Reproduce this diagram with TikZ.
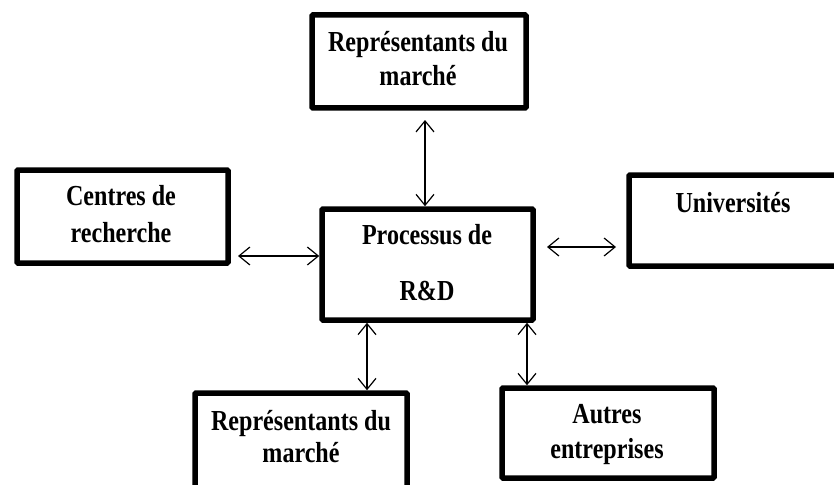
\documentclass[tikz,border=0pt]{standalone}
\usepackage{fontspec}
\setmainfont{Liberation Serif}[FakeStretch=0.83]
\usetikzlibrary{arrows.meta}
\begin{document}
\begin{tikzpicture}[x=1pt,y=-1pt,
  box/.style={draw=black,line width=5.5pt,rounded corners=1pt,rectangle,inner sep=0pt},
  lbl/.style={anchor=base,inner sep=0pt,font=\fontsize{29}{32}\selectfont\bfseries},
  biarrow/.style={line width=1.2pt,{Straight Barb[length=11pt,width=18pt]}-{Straight Barb[length=11pt,width=18pt]}}]
\useasboundingbox (0,0) rectangle (834,484);
\clip (0,0) rectangle (834,484);
% boxes
\node[box,minimum width=214pt,minimum height=93pt] (top) at (419,61.5) {};
\node[box,minimum width=211pt,minimum height=93pt] (left) at (122.5,216.5) {};
\node[box,minimum width=211pt,minimum height=111pt] (c) at (427.5,264.5) {};
\node[box,minimum width=271pt,minimum height=91pt] (right) at (764.5,220.5) {};
\node[box,minimum width=212pt,minimum height=127pt] (bl) at (301,456.5) {};
\node[box,minimum width=212pt,minimum height=90pt] (br) at (608,433) {};
% texts
\node[lbl] (t1) at (418,52) {Représentants du};
\node[lbl] (t2) at (418,86) {marché};
\node[lbl] (l1) at (121,205) {Centres de};
\node[lbl] (l2) at (121,242) {recherche};
\node[lbl] (c1) at (427,244) {Processus de};
\node[lbl] (c2) at (427,300) {R\&D};
\node[lbl] (r1) at (733,212) {Universités};
\node[lbl] (b1) at (301,430) {Représentants du};
\node[lbl] (b2) at (301,462) {marché};
\node[lbl] (e1) at (607,423) {Autres};
\node[lbl] (e2) at (607,458) {entreprises};
% arrow ends
\coordinate (a1) at (425,120);
\coordinate (a2) at (238,256);
\coordinate (a3s) at (547,247);
\coordinate (a3e) at (616,247);
\coordinate (x4) at (367,0);
\coordinate (x5) at (527,0);
% arrows
\draw[biarrow] (a1) -- (a1 |- c.north);
\draw[biarrow] (a2) -- (a2 -| c.west);
\draw[biarrow] (a3s) -- (a3e);
\draw[biarrow] (x4 |- c.south) -- (x4 |- bl.north);
\draw[biarrow] (x5 |- c.south) -- (x5 |- br.north);
\end{tikzpicture}
\end{document}
